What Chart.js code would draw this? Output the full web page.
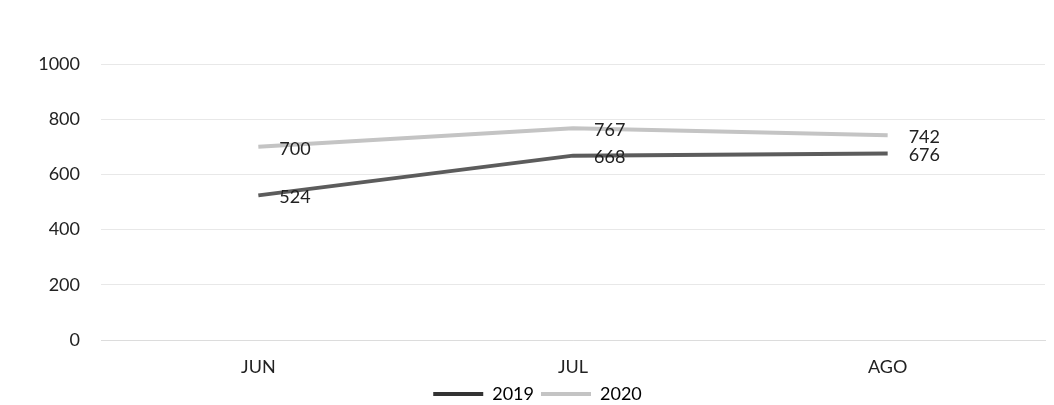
<!DOCTYPE html>
<html>
<head>
<meta charset="utf-8">
<script src="https://cdn.jsdelivr.net/npm/chart.js@4/dist/chart.umd.min.js"></script>
<style>
  html, body { margin: 0; padding: 0; background: #fff; }
  #wrap { width: 1054px; height: 405px; position: relative; }
</style>
</head>
<body>
<div id="wrap"><canvas id="chart"></canvas></div>
<script>
// values
const months = ['JUN', 'JUL', 'AGO'];
const values2019 = [524, 668, 676];
const values2020 = [700, 767, 742];
const yTicks = [0, 200, 400, 600, 800, 1000];

const FONT = 'Lato, "Open Sans", sans-serif';

// draw the number to the right of each point
const pointLabels = {
    id: 'pointLabels',
    afterDatasetsDraw(chart) {
        const ctx = chart.ctx;
        ctx.save();
        ctx.font = '18px ' + FONT;
        ctx.fillStyle = '#222';
        ctx.textAlign = 'left';
        ctx.textBaseline = 'middle';
        chart.data.datasets.forEach((ds, i) => {
            chart.getDatasetMeta(i).data.forEach((pt, j) => {
                ctx.fillText(ds.data[j], pt.x + 21, pt.y + 2);
            });
        });
        ctx.restore();
    }
};

document.addEventListener("DOMContentLoaded", function() {
    const ctx = document.getElementById('chart').getContext('2d');

    new Chart(ctx, {
        type: 'line',
        data: {
            labels: months,
            datasets: [
                {
                    label: '2019',
                    data: values2019,
                    borderColor: '#5c5c5c',
                    backgroundColor: '#333',
                    borderWidth: 4,
                    pointRadius: 0,
                    fill: false
                },
                {
                    label: '2020',
                    data: values2020,
                    borderColor: '#c4c4c4',
                    backgroundColor: '#c4c4c4',
                    borderWidth: 4,
                    pointRadius: 0,
                    fill: false
                }
            ]
        },
        options: {
            responsive: true,
            maintainAspectRatio: false,
            animation: false,
            layout: { padding: { top: 64, left: 30, right: 9, bottom: -8 } },
            plugins: {
                tooltip: { enabled: false },
                legend: {
                    position: 'bottom',
                    labels: {
                        boxWidth: 50,
                        boxHeight: 4,
                        padding: 7,
                        color: '#222',
                        font: { family: FONT, size: 18 },
                        generateLabels(chart) {
                            return chart.data.datasets.map((ds, i) => ({
                                text: ds.label,
                                fillStyle: ds.backgroundColor,
                                strokeStyle: ds.backgroundColor,
                                lineWidth: 0,
                                datasetIndex: i
                            }));
                        }
                    }
                }
            },
            scales: {
                x: {
                    offset: true,
                    grid: { display: false, offset: true, drawTicks: false },
                    border: { color: '#dcdcdc', width: 1 },
                    afterFit(scale) {
                        scale.height = 38;
                    },
                    ticks: {
                        color: '#222',
                        padding: 18,
                        font: { family: FONT, size: 18, lineHeight: 1 }
                    }
                },
                y: {
                    min: 0,
                    max: 1000,
                    afterBuildTicks(scale) {
                        scale.ticks = yTicks.map(v => ({ value: v }));
                    },
                    afterFit(scale) {
                        scale.width = 71;
                    },
                    grid: { color: '#e8e8e8', drawTicks: false },
                    border: { display: false },
                    ticks: {
                        color: '#222',
                        padding: 21,
                        font: { family: FONT, size: 18 },
                        callback: v => String(v)
                    }
                }
            }
        },
        plugins: [pointLabels]
    });
});
</script>
</body>
</html>
